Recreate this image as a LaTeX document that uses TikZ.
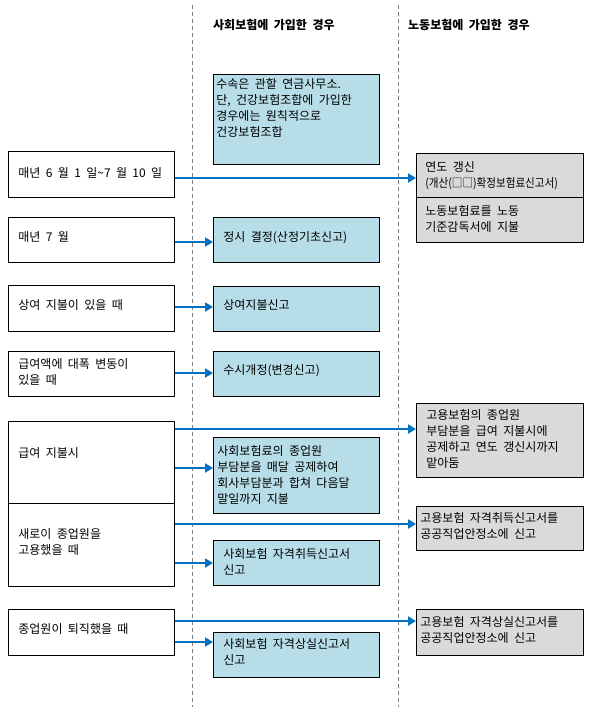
\documentclass[tikz,border=0pt]{standalone}
\usepackage{fontspec}
\setmainfont{Noto Sans CJK KR}[WordSpace=2]
\usepackage{graphicx}
\usetikzlibrary{arrows.meta}
\definecolor{skyfill}{RGB}{183,221,232}
\definecolor{greyfill}{RGB}{218,218,218}
\definecolor{flowblue}{RGB}{0,112,192}
\definecolor{lanegrey}{RGB}{128,128,128}
% width, height, first baseline, left pad, text
\newcommand{\cellbox}[5]{%
	\parbox[b][#2pt][t]{#1pt}{\raggedright\leftskip=#4pt\relax
		\vspace*{\dimexpr#3pt-12pt\relax}\rule{0pt}{12pt}#5}}
\tikzset{
	cell/.style = {draw, line width=.8pt, fill=white, inner sep=0pt, anchor=north west, font=\fontsize{12}{16}\selectfont},
	skycell/.style = {cell, fill=skyfill},
	greycell/.style = {cell, fill=greyfill},
	flow/.style = {draw=flowblue, line width=2.6pt, -{Triangle[length=8pt,width=9pt]}},
	lane/.style = {draw=lanegrey, line width=.6pt, dash pattern=on 4pt off 3pt},
	head/.style = {anchor=base west, inner sep=0pt, font=\bfseries\fontsize{12}{14}\selectfont}
}

\begin{document}
\begin{tikzpicture}[x=1pt, y=-1pt]
\useasboundingbox (0,0) rectangle (590,713);

% lanes and headers
\draw [lane] (192.5,5) -- (192.5,707);
\draw [lane] (398,5) -- (398,707);
\node [head] (socialhead) at (213,29.5) {사회보험에 가입한 경우};
\node [head] (labourhead) at (408,29.5) {노동보험에 가입한 경우};

% when
\node [cell] (june) at (8,151) {\cellbox{166}{46}{26.5}{10}{매년 6 월 1 일\string~7 월 10 일}};
\node [cell] (july) at (8,217) {\cellbox{166}{45}{24.5}{10}{매년 7 월}};
\node [cell] (bonus) at (8,285) {\cellbox{166}{46}{24.5}{10}{상여 지불이 있을 때}};
\node [cell] (shift) at (8,351) {\cellbox{166}{45}{17.5}{10}{급여액에 대폭 변동이\\있을 때}};
\node [cell] (pay) at (8,421) {\cellbox{166}{82}{36.5}{10}{급여 지불시}};
\node [cell] (hire) at (8,503) {\cellbox{166}{83}{35.5}{10}{새로이 종업원을\\고용했을 때}};
\node [cell] (quit) at (8,609) {\cellbox{166}{46}{24.5}{10}{종업원이 퇴직했을 때}};

% social insurance
\node [skycell] (procedure) at (213,74) {\cellbox{166}{90}{14.5}{3}{수속은 관할 연금사무소.\\단, 건강보험조합에 가입한\\경우에는 원칙적으로\\건강보험조합}};
\node [skycell] (fixed) at (213,217) {\cellbox{166}{45}{24.5}{10}{정시 결정(산정기초신고)}};
\node [skycell] (bonusrep) at (213,286) {\cellbox{166}{45}{23.5}{10}{상여지불신고}};
\node [skycell] (revise) at (213,351) {\cellbox{166}{45}{23.5}{10}{수시개정(변경신고)}};
\node [skycell] (socdeduct) at (213,437) {\cellbox{166}{76}{18.5}{4}{사회보험료의 종업원\\부담분을 매달 공제하여\\회사부담분과 합쳐 다음달\\말일까지 지불}};
\node [skycell] (socget) at (213,540) {\cellbox{166}{45}{18.5}{10}{사회보험 자격취득신고서\\신고}};
\node [skycell] (soclose) at (213,632) {\cellbox{166}{45}{16.5}{10}{사회보험 자격상실신고서\\신고}};

% labour insurance
\node [greycell] (renew) at (416,153) {\cellbox{167}{44}{18.5}{9}{연도 갱신\\\scalebox{.88}[1]{(개산(□□)확정보험료신고서)}}};
\node [greycell] (renewpay) at (416,197) {\cellbox{167}{45}{18.5}{9}{노동보험료를 노동\\기준감독서에 지불}};
\node [greycell] (empkeep) at (416,403) {\cellbox{167}{74}{16.5}{10}{고용보험의 종업원\\부담분을 급여 지불시에\\공제하고 연도 갱신시까지\\맡아둠}};
\node [greycell] (empget) at (416,506) {\cellbox{167}{44}{16.5}{4}{고용보험 자격취득신고서를\\공공직업안정소에 신고}};
\node [greycell] (emplose) at (416,609) {\cellbox{167}{46}{17.5}{4}{고용보험 자격상실신고서를\\공공직업안정소에 신고}};

% arrows
\foreach \src/\dst/\y in {june/renew/178, july/fixed/242, bonus/bonusrep/307, shift/revise/373,
	pay/empkeep/429, pay/socdeduct/468, hire/empget/524, hire/socget/563, quit/emplose/621, quit/soclose/642}{
	\draw [flow] (\src.east |- 0,\y) -- (\dst.west |- 0,\y);
}
\end{tikzpicture}
\end{document}
